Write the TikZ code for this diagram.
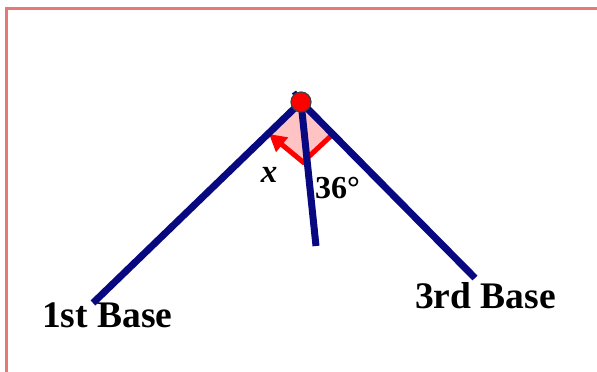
\documentclass[tikz,border=0pt]{standalone}
\usepackage{fontspec}
\setmainfont{Liberation Serif}
\usetikzlibrary{arrows.meta}
\definecolor{navy}{RGB}{8,8,128}
\definecolor{framered}{RGB}{232,120,120}
\definecolor{pinkfill}{RGB}{255,195,195}
\begin{document}
\begin{tikzpicture}[x=1pt,y=-1pt,
  ray/.style={draw=navy,line width=7pt},
  lbl/.style={inner sep=0pt,font=\fontsize{37.5}{40}\selectfont\bfseries},
  anglbl/.style={inner sep=0pt,font=\fontsize{32}{34}\selectfont\bfseries}]
\useasboundingbox (0,0) rectangle (597,372);
\draw[framered,line width=2.5pt] (6.5,372) -- (6.5,8.5) -- (597,8.5);
\coordinate (V) at (301,102);
\coordinate (A) at (93,303);
\coordinate (B) at (475,278);
\coordinate (M) at (316,246);
\coordinate (S) at (294,92);
\coordinate (L) at (269,134);
\coordinate (C) at (303,162);
\coordinate (R) at (333,134);
\fill[pinkfill] (V) -- (L) -- (C) -- (R) -- cycle;
\draw[red,line width=5pt,line join=miter,{Triangle[length=17pt,width=18pt]}-] (L) -- (C) -- (R);
\draw[ray] (A) -- (V) -- (B);
\draw[ray] (M) -- (V);
\draw[navy,line width=5pt] (V) -- (S);
\node[circle,fill=red,draw=black!75,line width=1.2pt,minimum size=20pt,inner sep=0pt] (dot) at (V) {};
\node[lbl,anchor=base west] (first) at (42,327) {1st Base};
\node[lbl,anchor=base west] (third) at (415,308) {3rd Base};
\node[anglbl,anchor=base west] (deg) at (315,198) {36°};
\node[anglbl,font=\fontsize{33}{34}\selectfont\bfseries\itshape] (xlbl) at (269,175) {x};
\end{tikzpicture}
\end{document}
